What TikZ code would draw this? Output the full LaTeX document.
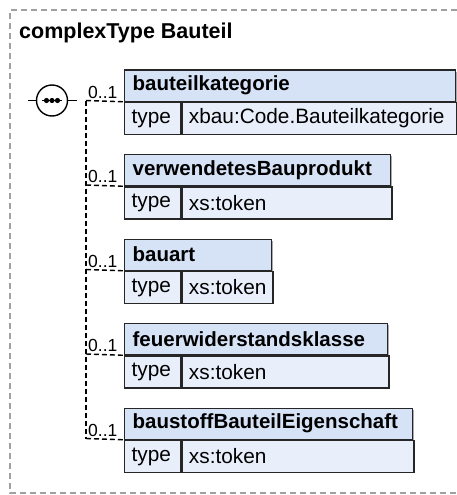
\documentclass[tikz,border=0pt]{standalone}
\usepackage{fontspec}
\setmainfont{Liberation Sans}
\definecolor{hdrfill}{RGB}{214,226,246}
\definecolor{rowfill}{RGB}{232,239,251}
\definecolor{framec}{RGB}{160,160,160}
\definecolor{shadowc}{RGB}{170,170,170}
\tikzset{
  hdr/.style={draw=black!85, line width=1.3pt, fill=hdrfill, anchor=north west,
    inner xsep=8pt, inner ysep=0pt, minimum height=31pt, align=left,
    font=\fontsize{20.5}{24}\selectfont\bfseries},
  typelab/.style={draw=black!85, line width=1.3pt, fill=rowfill, anchor=north west,
    inner xsep=7pt, inner ysep=0pt, minimum height=32pt, text width=42pt, align=left,
    font=\fontsize{20.8}{24}\selectfont},
  typeval/.style={draw=black!85, line width=1.3pt, fill=rowfill, anchor=north west,
    inner xsep=7pt, inner ysep=0pt, minimum height=32pt, align=left,
    font=\fontsize{20.8}{24}\selectfont},
  card/.style={anchor=south west, inner sep=0pt, font=\fontsize{17.5}{20}\selectfont},
  conn/.style={line width=1.4pt, dash pattern=on 5pt off 3pt},
  framebox/.style={draw=framec, line width=1.2pt, dash pattern=on 6pt off 4pt},
}
% #1 id, #2 top y, #3 box width, #4 name, #5 type
\newcommand\xsdbox[5]{%
  \fill[shadowc] (126,#2+2) rectangle (124+#3+2,#2+65);
  \node[hdr, text width=#3pt-16pt] (#1h) at (124,#2) {#4};
  \node[typelab] (#1t) at (#1h.south west) {type};
  \node[typeval, text width=#3pt-56pt-14pt] (#1v) at (#1t.north east) {#5};
  \coordinate (#1in) at (#1h.south west);
  \coordinate (#1j) at (86,#2+31);
  \node[card] (#1c) at (88,#2+29) {0..1};
  \draw[conn] (#1j) -- (#1in);
}
\begin{document}
\begin{tikzpicture}[x=1pt,y=-1pt]
\useasboundingbox (0,0) rectangle (457,495);
\coordinate (fa) at (457,10);
\coordinate (fb) at (10,10);
\coordinate (fc) at (10,493);
\coordinate (fd) at (457,493);
\draw[framebox] (fa) -- (fb) -- (fc) -- (fd);
\node[anchor=base west, inner sep=0pt, font=\fontsize{21.5}{25}\selectfont\bfseries] (title) at (19,38.5) {complexType Bauteil};
% sequence symbol
\node[circle, draw=black, line width=1.4pt, fill=white, minimum size=31pt, inner sep=0pt] (seq) at (52,100.5) {};
\coordinate (stubL) at (28,100.5);
\coordinate (stubR) at (77,100.5);
\draw[line width=1.4pt] (stubL) -- (seq.west);
\draw[line width=1.4pt] (seq.east) -- (stubR);
\draw[line width=1.4pt] ([xshift=-10pt]seq.center) -- ([xshift=10pt]seq.center);
\foreach \dx in {-5.5,0,5.5} \fill ([xshift=\dx pt]seq.center) circle (2.6pt);
\xsdbox{a}{69.5}{331}{bauteilkategorie}{xbau:Code.Bauteilkategorie}
\xsdbox{b}{154}{266}{verwendetesBauprodukt}{xs:token}
\xsdbox{c}{238.5}{147}{bauart}{xs:token}
\xsdbox{d}{323}{263}{feuerwiderstandsklasse}{xs:token}
\xsdbox{e}{407.5}{288}{baustoffBauteilEigenschaft}{xs:token}
\draw[conn] (aj) -- (ej);
\end{tikzpicture}
\end{document}
